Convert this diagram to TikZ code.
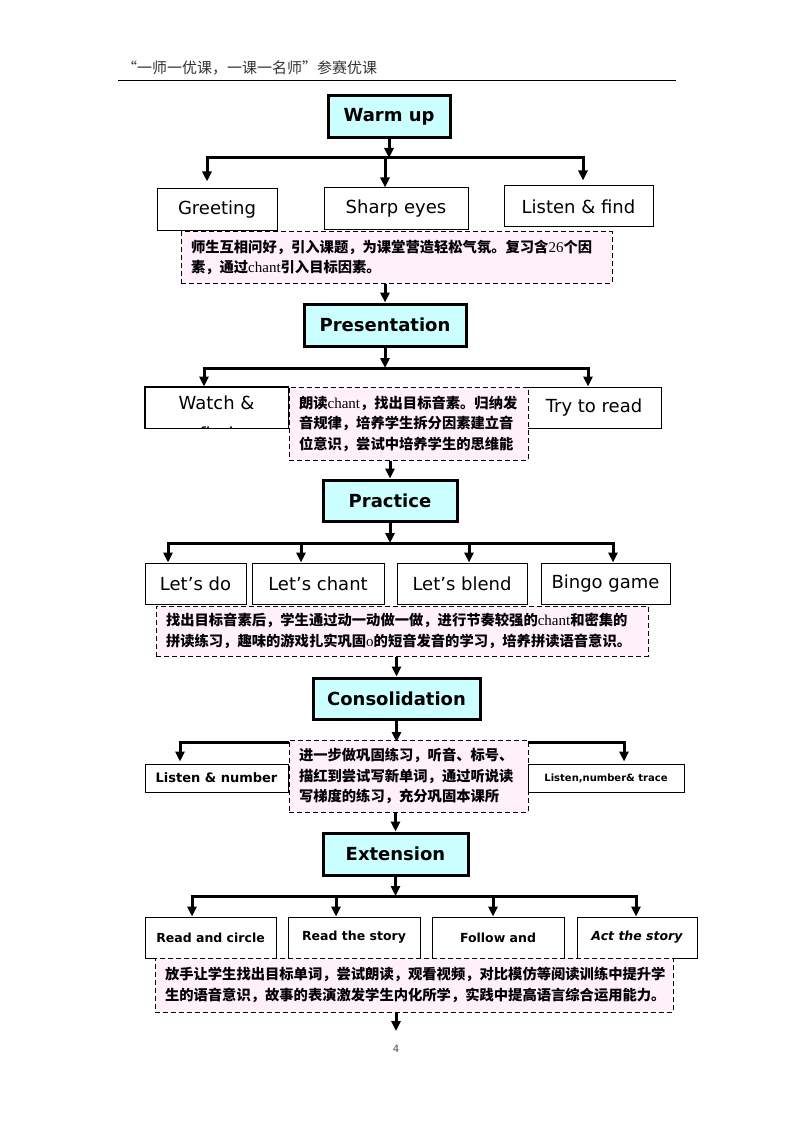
\documentclass[tikz,border=0pt]{standalone}
\usepackage{fontspec}
\setmainfont{DejaVu Sans}
\newfontfamily\cjk{Noto Sans CJK SC}
\newfontfamily\lat{Liberation Serif}
\usetikzlibrary{arrows.meta}
\definecolor{headfill}{HTML}{CCFFFF}
\definecolor{notefill}{HTML}{FFF0FA}
\begin{document}
\begin{tikzpicture}[x=1pt,y=-1pt,
  head/.style={draw, line width=3pt, fill=headfill, font=\fontsize{18}{20}\selectfont\bfseries, inner sep=0pt},
  sub/.style={draw, line width=1pt, fill=white, font=\fontsize{18}{20}\selectfont, inner sep=0pt},
  subb/.style={sub, font=\fontsize{12.5}{14}\selectfont\bfseries},
  note/.style={draw, dash pattern=on 5pt off 3pt, line width=1pt, fill=notefill, font=\cjk\bfseries\fontsize{14.3}{20.5}\selectfont, align=left, inner xsep=10pt, inner ysep=0pt},
  arr/.style={line width=3pt, -{Triangle[length=10pt,width=9pt]}},
  bar/.style={line width=3pt}]
\fill[white] (0,0) rectangle (794,1123);
\useasboundingbox (0,0) rectangle (794,1123);

% header
\node[anchor=west, font=\cjk\fontsize{15}{17}\selectfont, text=black!80, inner sep=0pt] (hdr) at (122,68) {“一师一优课，一课一名师”参赛优课};
\draw[line width=0.8pt] (118,80) -- (676,80);

% ---------- Warm up ----------
\node[head, minimum width=122, minimum height=42] (warm) at (389,117) {Warm up};
\node[sub, minimum width=120, minimum height=42] (greet) at (217,210) {Greeting};
\node[sub, minimum width=144, minimum height=42] (sharp) at (396,209) {Sharp eyes};
\node[sub, minimum width=149, minimum height=41] (listen) at (578.5,206.5) {Listen \& find};
\node[note, minimum width=431, minimum height=51, text width=411] (d1) at (396.5,257.5)
 {师生互相问好，引入课题，为课堂营造轻松气氛。复习含{\lat\mdseries\fontsize{15}{20}\selectfont 26}个因\\素，通过{\lat\mdseries\fontsize{15}{20}\selectfont chant}引入目标因素。};
\coordinate (b1c) at (389,158);
\coordinate (b1l) at (207,158);
\coordinate (b1m) at (385,158);
\coordinate (b1r) at (583,158);
\draw[arr] (warm.south) -- (b1c);
\draw[arr, shorten >=7pt] (b1c) -- (b1l) -- (b1l |- greet.north);
\draw[arr] (b1m) -- (b1m |- sharp.north);
\draw[arr, shorten >=5pt] (b1c) -- (b1r) -- (b1r |- listen.north);

% ---------- Presentation ----------
\node[head, minimum width=162, minimum height=42] (pres) at (385,325) {Presentation};
\draw[arr] (pres.north |- d1.south) -- (pres.north);
\node[sub, minimum width=143, minimum height=41] (watch) at (216.5,407.5) {};
\begin{scope}
\clip (watch.south west) rectangle (watch.north east);
\node[anchor=north, align=center, inner sep=0pt, font=\fontsize{18}{31}\selectfont] (watchtxt) at ([yshift=-9pt]watch.north) {Watch \&\\find};
\end{scope}
\draw[line width=1pt] (watch.south west) rectangle (watch.north east);
\node[sub, minimum width=134, minimum height=41] (try) at (594,407.5) {Try to read};
\node[note, minimum width=239, minimum height=73, text width=219] (d2) at (408.5,423.5)
 {朗读{\lat\mdseries\fontsize{15}{20}\selectfont chant}，找出目标音素。归纳发\\音规律，培养学生拆分因素建立音\\位意识，尝试中培养学生的思维能};
\coordinate (b2c) at (385,368);
\coordinate (b2l) at (204,368);
\coordinate (b2r) at (588,368);
\draw[arr] (pres.south) -- (b2c);
\draw[arr] (b2c) -- (b2l) -- (b2l |- watch.north);
\draw[arr] (b2c) -- (b2r) -- (b2r |- try.north);

% ---------- Practice ----------
\node[head, minimum width=134, minimum height=41] (prac) at (390,500.5) {Practice};
\draw[arr] (prac.north |- d2.south) -- (prac.north);
\node[sub, minimum width=101, minimum height=41] (do) at (195.5,583.5) {Let’s do};
\node[sub, minimum width=132, minimum height=41] (chant) at (318,583.5) {Let’s chant};
\node[sub, minimum width=130, minimum height=41] (blend) at (462,583.5) {Let’s blend};
\node[sub, minimum width=129, minimum height=41] (bingo) at (605.5,583.5) {Bingo game};
\node[note, minimum width=492, minimum height=50, text width=472] (d3) at (402,631)
 {找出目标音素后，学生通过动一动做一做，进行节奏较强的{\lat\mdseries\fontsize{15}{20}\selectfont chant}和密集的\\拼读练习，趣味的游戏扎实巩固{\lat\mdseries\fontsize{15}{20}\selectfont o}的短音发音的学习，培养拼读语音意识。};
\coordinate (b3c) at (390,543);
\coordinate (b3l) at (168,543);
\coordinate (b3a) at (301,543);
\coordinate (b3b) at (469,543);
\coordinate (b3r) at (613,543);
\draw[arr] (prac.south) -- (b3c);
\draw[arr] (b3c) -- (b3l) -- (b3l |- do.north);
\draw[arr] (b3a) -- (b3a |- chant.north);
\draw[arr] (b3b) -- (b3b |- blend.north);
\draw[arr] (b3c) -- (b3r) -- (b3r |- bingo.north);

% ---------- Consolidation ----------
\node[head, minimum width=167, minimum height=41] (cons) at (396.5,698.5) {Consolidation};
\draw[arr] (cons.north |- d3.south) -- (cons.north);
\coordinate (b4c) at (396.5,742);
\coordinate (b4l) at (180,742);
\coordinate (b4r) at (624,742);
\node[sub, font=\fontsize{13}{15}\selectfont\bfseries, minimum width=143, minimum height=28] (lnum) at (216.5,778) {Listen \& number};
\node[sub, font=\fontsize{10}{12}\selectfont\bfseries, minimum width=156, minimum height=28] (lnt) at (606,778) {Listen,number\& trace};
\draw[arr] (cons.south) -- (b4c);
\draw[arr, shorten >=2pt] (b4c) -- (b4l) -- (b4l |- lnum.north);
\draw[arr, shorten >=2pt] (b4c) -- (b4r) -- (b4r |- lnt.north);
\node[note, minimum width=239, minimum height=72, text width=219] (d4) at (408.5,776)
 {进一步做巩固练习，听音、标号、\\描红到尝试写新单词，通过听说读\\写梯度的练习，充分巩固本课所};

% ---------- Extension ----------
\node[head, minimum width=145, minimum height=42] (ext) at (395.5,854) {Extension};
\draw[arr] (ext.north |- d4.south) -- (ext.north);
\node[subb, minimum width=131, minimum height=41] (rc) at (210.5,937.5) {Read and circle};
\node[subb, minimum width=132, minimum height=41] (rs) at (354,937.5) {Read the story};
\node[subb, minimum width=132, minimum height=41] (fa) at (498,937.5) {Follow and};
\node[subb, minimum width=120, minimum height=41] (as) at (637,937.5) {\itshape Act the story};
\node[note, minimum width=518, minimum height=54, text width=498] (d5) at (414,985)
 {放手让学生找出目标单词，尝试朗读，观看视频，对比模仿等阅读训练中提升学\\生的语音意识，故事的表演激发学生内化所学，实践中提高语言综合运用能力。};
\coordinate (b5c) at (395.5,896);
\coordinate (b5l) at (192,896);
\coordinate (b5a) at (336,896);
\coordinate (b5b) at (493,896);
\coordinate (b5r) at (636,896);
\draw[arr] (ext.south) -- (b5c);
\draw[arr] (b5c) -- (b5l) -- (b5l |- rc.north);
\draw[arr] (b5a) -- (b5a |- rs.north);
\draw[arr] (b5b) -- (b5b |- fa.north);
\draw[arr] (b5c) -- (b5r) -- (b5r |- as.north);
\coordinate (endpt) at (396,1031);
\draw[arr] (endpt |- d5.south) -- (endpt);

\node[font=\fontsize{10}{12}\selectfont, text=black!70] (pg) at (396,1049) {4};
\end{tikzpicture}
\end{document}
